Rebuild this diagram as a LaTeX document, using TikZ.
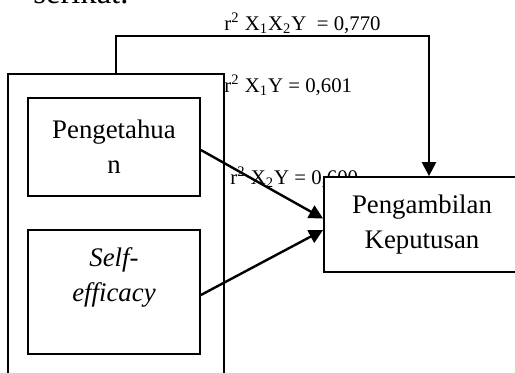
\documentclass[tikz,border=0pt]{standalone}
\usepackage{fontspec}
\setmainfont{Liberation Serif}
\usepackage{tikz}
\usetikzlibrary{arrows.meta}
\usetikzlibrary{positioning}
\tikzset{box/.style = {draw, line width = 0.9pt, fill = white, align = center, inner sep = 0, font = \fontsize{13.4}{17.5}\selectfont}}
\tikzset{link/.style = {line width = 1.2pt, -{Triangle[length = 7pt, width = 7pt]}}}
\tikzset{coef/.style = {anchor = base west, inner sep = 0, font = \fontsize{10.4}{12}\selectfont}}

\begin{document}
\begin{tikzpicture}[x = 0.5pt, y = -0.5pt]
    \useasboundingbox (0, 0) rectangle (515, 372);
    \clip (0, 0) rectangle (515, 372);
    \node [anchor = base west, inner sep = 0, font = \fontsize{16.3}{18}\selectfont] (head) at (33, 3) {serikat.};
    \node [draw, line width = 0.75pt, minimum width = 108pt, minimum height = 170pt, inner sep = 0] (outer) at (116, 244) {};
    \node [box, minimum width = 86pt, minimum height = 49pt] (know) at (114, 147) {Pengetahua\\n};
    \node [box, minimum width = 86pt, minimum height = 62pt] (self) at (114, 292) {\textit{Self-}\\\textit{efficacy}\\~};
    \node [coef] (r12) at (224, 30) {r\textsuperscript{2} X\textsubscript{1}X\textsubscript{2}Y \ = 0,770};
    \node [coef] (r1) at (224, 92) {r\textsuperscript{2} X\textsubscript{1}Y = 0,601};
    \node [coef] (r2) at (230, 184) {r\textsuperscript{2} X\textsubscript{2}Y = 0,600};
    \node [box, minimum width = 98pt, minimum height = 47.5pt] (decide) at (422, 224.5) {Pengambilan\\Keputusan};
    \draw [link] (outer.north) -- ++(0, -37) -| ([xshift = 3.5pt]decide.north);
    \draw [link] ([yshift = -1.5pt]know.east) -- ([yshift = 3pt]decide.west);
    \draw [link] ([yshift = -1.5pt]self.east) -- ([yshift = -2.75pt]decide.west);
\end{tikzpicture}
\end{document}
